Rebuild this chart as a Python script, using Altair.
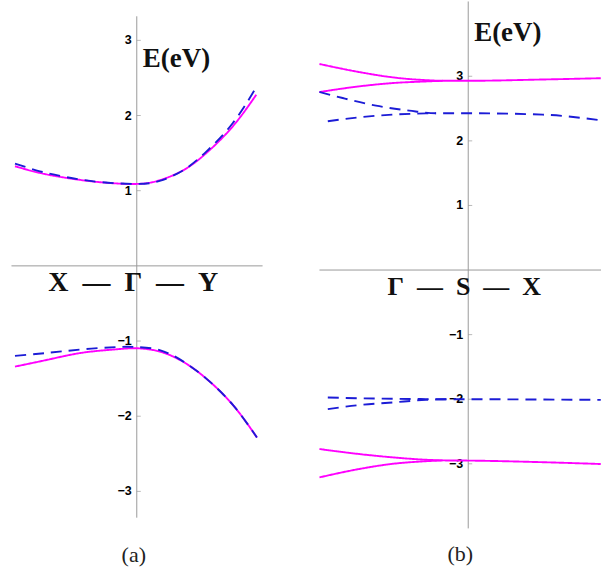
import altair as alt
import pandas as pd

# ---------------- panel (a): X - Gamma - Y ----------------
A_K_CB = [-0.972, -0.773, -0.56, -0.295, 0.0, 0.183, 0.369, 0.555, 0.767, 0.954]
A_CB_SOLID = [1.325, 1.236, 1.17, 1.113, 1.09, 1.14, 1.27, 1.50, 1.857, 2.277]
A_CB_DASHED = [1.361, 1.258, 1.18, 1.115, 1.09, 1.13, 1.27, 1.52, 1.90, 2.378]

A_K_VB = [-0.972, -0.693, -0.428, -0.162, 0.0, 0.183, 0.369, 0.555, 0.767, 0.959]
A_VB_SOLID = [-1.34, -1.242, -1.154, -1.11, -1.096, -1.14, -1.275, -1.50, -1.85, -2.283]
A_VB_DASHED = [-1.198, -1.154, -1.11, -1.08, -1.08, -1.12, -1.27, -1.50, -1.85, -2.283]

# ---------------- panel (b): Gamma - S - X ----------------
B_K_MAIN = [-1.0, -0.732, -0.508, -0.284, -0.172, 0.0, 0.5, 0.891]
B_K_SPLIT = [-1.0, -0.732, -0.508, -0.284, -0.172]
B_CB_SOLID_MAIN = [3.19, 3.065, 2.983, 2.94, 2.93, 2.93, 2.95, 2.97]
B_CB_SOLID_SPLIT = [2.756, 2.844, 2.895, 2.92, 2.93]
B_VB_SOLID_MAIN = [-2.771, -2.849, -2.90, -2.937, -2.947, -2.95, -2.975, -3.003]
B_VB_SOLID_SPLIT = [-3.21, -3.08, -3.0, -2.96, -2.947]

B_K_CB_DASHED_MAIN = [-1.0, -0.844, -0.62, -0.396, -0.217, 0.0, 0.5, 0.891]
B_CB_DASHED_MAIN = [2.756, 2.663, 2.545, 2.468, 2.427, 2.427, 2.406, 2.318]
B_K_CB_DASHED_SPLIT = [-0.944, -0.732, -0.508, -0.284, -0.217]
B_CB_DASHED_SPLIT = [2.303, 2.365, 2.406, 2.425, 2.427]

B_K_VB_DASHED_MAIN = [-0.944, -0.732, -0.508, -0.284, -0.13, 0.0, 0.5, 0.891]
B_VB_DASHED_MAIN = [-1.974, -1.985, -1.993, -1.998, -2.0, -2.0, -2.005, -2.01]
B_K_VB_DASHED_SPLIT = [-0.944, -0.732, -0.508, -0.284, -0.13]
B_VB_DASHED_SPLIT = [-2.153, -2.09, -2.05, -2.01, -2.0]

# axis extents, tick values and labels
A_X_AXIS = [-1.0, 1.004]
A_Y_AXIS = [-3.35, 3.32]
B_X_AXIS = [-1.0, 0.8926]
B_Y_AXIS = [-4.0, 4.158]
A_TICKS = [-3, -2, -1, 1, 2, 3]
B_TICKS = [-3, -2, -1, 1, 2, 3]

STYLES = ["solid", "dashed"]
COLORS = ["#ff00ff", "#1c1cd6"]
DASHES = [[1, 0], [11, 7]]

SERIF = "Liberation Serif"
SANS = "Liberation Sans"
AXIS_GRAY = "#9a9a9a"


def curves(spec):
    rows = []
    for name, style, ks, es in spec:
        for k, e in zip(ks, es):
            rows.append({"curve": name, "style": style, "k": k, "E": e})
    return pd.DataFrame(rows)


def tick_label(v):
    return ("\u2212" + str(abs(v))) if v < 0 else str(v)


def panel(df, xdom, ydom, width, height, x_axis, y_axis, ticks,
          elabel, path, path_size, caption, interp):
    xs = alt.Scale(domain=xdom, nice=False, zero=False)
    ys = alt.Scale(domain=ydom, nice=False, zero=False)

    def X(f):
        return alt.X(f, type="quantitative", scale=xs, axis=None)

    def Y(f):
        return alt.Y(f, type="quantitative", scale=ys, axis=None)

    hax = alt.Chart(pd.DataFrame({"x0": [x_axis[0]], "x1": [x_axis[1]], "y": [0]})).mark_rule(
        color=AXIS_GRAY, strokeWidth=1).encode(x=X("x0"), x2="x1", y=Y("y"))
    vax = alt.Chart(pd.DataFrame({"y0": [y_axis[0]], "y1": [y_axis[1]], "x": [0]})).mark_rule(
        color=AXIS_GRAY, strokeWidth=1).encode(x=X("x"), y=Y("y0"), y2="y1")

    tdf = pd.DataFrame({"v": ticks, "x": [0] * len(ticks),
                        "lab": [tick_label(t) for t in ticks]})
    tks = alt.Chart(tdf).mark_tick(orient="horizontal", size=4, thickness=1,
                                   xOffset=2, color=AXIS_GRAY).encode(x=X("x"), y=Y("v"))
    tlab = alt.Chart(tdf).mark_text(align="right", baseline="middle", dx=-5,
                                    font=SANS, fontWeight="bold", fontSize=12.5,
                                    color="#000000").encode(x=X("x"), y=Y("v"), text="lab:N")

    enc = dict(
        x=X("k"), y=Y("E"), detail="curve:N",
        color=alt.Color("style:N", scale=alt.Scale(domain=STYLES, range=COLORS), legend=None),
        strokeDash=alt.StrokeDash("style:N", scale=alt.Scale(domain=STYLES, range=DASHES), legend=None),
    )
    solid = alt.Chart(df[df["style"] == "solid"]).mark_line(
        interpolate=interp, strokeWidth=1.9, clip=True).encode(**enc)
    dashed = alt.Chart(df[df["style"] == "dashed"]).mark_line(
        interpolate=interp, strokeWidth=1.9, clip=True).encode(**enc)

    ldf = pd.DataFrame([elabel])
    etxt = alt.Chart(ldf).mark_text(align="left", baseline="middle", font=SERIF,
                                    fontWeight="bold", fontSize=27, color="#111111").encode(
        x=X("x"), y=Y("y"), text="t:N")
    pdf = pd.DataFrame([path])
    ptxt = alt.Chart(pdf).mark_text(align="center", baseline="middle", font=SERIF,
                                    fontWeight="bold", fontSize=path_size, color="#111111").encode(
        x=X("x"), y=Y("y"), text="t:N")
    cdf = pd.DataFrame([caption])
    ctxt = alt.Chart(cdf).mark_text(align="center", baseline="middle", font=SERIF,
                                    fontSize=22, color="#222222").encode(
        x=X("x"), y=Y("y"), text="t:N")

    return alt.layer(hax, vax, tks, tlab, solid, dashed, etxt, ptxt, ctxt).properties(
        width=width, height=height)


df_a = curves([
    ("cb_solid", "solid", A_K_CB, A_CB_SOLID),
    ("cb_dashed", "dashed", A_K_CB, A_CB_DASHED),
    ("vb_solid", "solid", A_K_VB, A_VB_SOLID),
    ("vb_dashed", "dashed", A_K_VB, A_VB_DASHED),
])

df_b = curves([
    ("cb_solid_main", "solid", B_K_MAIN, B_CB_SOLID_MAIN),
    ("cb_solid_split", "solid", B_K_SPLIT, B_CB_SOLID_SPLIT),
    ("vb_solid_main", "solid", B_K_MAIN, B_VB_SOLID_MAIN),
    ("vb_solid_split", "solid", B_K_SPLIT, B_VB_SOLID_SPLIT),
    ("cb_dashed_main", "dashed", B_K_CB_DASHED_MAIN, B_CB_DASHED_MAIN),
    ("cb_dashed_split", "dashed", B_K_CB_DASHED_SPLIT, B_CB_DASHED_SPLIT),
    ("vb_dashed_main", "dashed", B_K_VB_DASHED_MAIN, B_VB_DASHED_MAIN),
    ("vb_dashed_split", "dashed", B_K_VB_DASHED_SPLIT, B_VB_DASHED_SPLIT),
])

SP = "\u2002"
panel_a = panel(
    df_a, [-1.0916, 1.2988], [-4.106, 3.517], 300, 574,
    A_X_AXIS, A_Y_AXIS, A_TICKS,
    {"t": "E(eV)", "x": 0.048, "y": 2.753},
    {"t": f"X{SP}\u2014{SP}\u0393{SP}\u2014{SP}Y", "x": -0.028, "y": -0.228}, 28,
    {"t": "(a)", "x": -0.024, "y": -3.84},
    "natural",
)
panel_b = panel(
    df_b, [-1.1342, 0.8926], [-4.714, 4.158], 302, 574,
    B_X_AXIS, B_Y_AXIS, B_TICKS,
    {"t": "E(eV)", "x": 0.04, "y": 3.663},
    {"t": f"\u0393{SP}\u2014{SP}S{SP}\u2014{SP}X", "x": -0.027, "y": -0.263}, 26,
    {"t": "(b)", "x": -0.054, "y": -4.39},
    "monotone",
)

chart = alt.hconcat(panel_a, panel_b, spacing=0).properties(
    padding=0, background="white"
).configure_view(stroke=None)

chart.save("out.html", embed_options={"renderer": "svg", "actions": False})
